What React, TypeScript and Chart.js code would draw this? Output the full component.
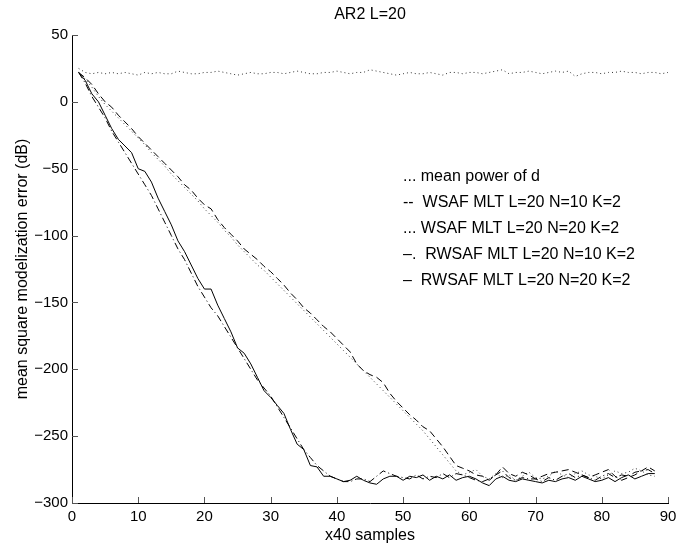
import React, { useEffect, useRef } from "react";
import { Chart, registerables } from "chart.js";

Chart.register(...registerables);

const TITLE = "AR2 L=20";
const X_LABEL = "x40 samples";
const Y_LABEL = "mean square modelization error (dB)";
const X_TICKS = [0, 10, 20, 30, 40, 50, 60, 70, 80, 90];
const Y_TICKS = [50, 0, -50, -100, -150, -200, -250, -300];
const LEGEND_LINES = [
  "... mean power of d",
  "--  WSAF MLT L=20 N=10 K=2",
  "... WSAF MLT L=20 N=20 K=2",
  "\u2013.  RWSAF MLT L=20 N=10 K=2",
  "\u2013  RWSAF MLT L=20 N=20 K=2",
];

const meanPower = [
  25, 22, 21, 22, 21, 22, 21, 22, 21, 20, 22, 21, 22, 21, 21, 23, 22, 21, 21, 22,
  22, 23, 22, 21, 20, 21, 22, 21, 21, 22, 22, 21, 22, 23, 22, 21, 21, 22, 22, 23,
  22, 21, 22, 22, 24, 23, 22, 21, 20, 21, 22, 21, 21, 22, 21, 20, 22, 22, 21, 22,
  22, 21, 22, 23, 24, 21, 22, 22, 23, 22, 21, 22, 23, 22, 23, 19, 21, 22, 22, 21,
  22, 22, 23, 22, 22, 21, 22, 22, 21, 22,
];

const wsafN10 = [
  22, 18, 13, 6, 0, -4, -10, -15, -20, -26, -31, -36, -41, -46, -51, -56, -62, -66, -72, -77,
  -80, -88, -94, -99, -104, -110, -114, -118, -123, -127, -132, -137, -143, -148, -154, -158, -163, -168, -172, -177,
  -182, -187, -196, -201, -204, -206, -210, -218, -224, -229, -234, -238, -243, -246, -252, -258, -265, -272, -274, -276,
  -279, -280, -283, -279, -273, -278, -280, -277, -279, -282, -280, -278, -277, -276, -275, -277, -279, -281, -279, -277,
  -275, -280, -283, -281, -279, -276, -273, -276,
];

const wsafN20 = [
  22, 17, 11, 4, -2, -7, -12, -17, -22, -27, -32, -38, -43, -48, -54, -59, -64, -69, -74, -80,
  -85, -90, -96, -101, -107, -112, -117, -122, -126, -131, -136, -141, -146, -151, -156, -161, -166, -171, -176, -181,
  -186, -191, -196, -201, -206, -211, -216, -221, -226, -231, -236, -241, -246, -252, -258, -264, -270, -276, -279, -277,
  -275, -280, -282, -278, -281, -279, -283, -280, -277, -281, -282, -280, -276, -279, -281, -278, -276, -279, -280, -282,
  -279, -276, -278, -277, -274, -276, -279, -280,
];

const rwsafN10 = [
  22, 14, 4, -4, -12, -22, -30, -38, -46, -54, -62, -70, -80, -90, -100, -110, -118, -128, -138, -146,
  -154, -160, -168, -176, -184, -192, -200, -208, -214, -220, -228, -236, -244, -252, -260, -266, -272, -276, -280, -282,
  -284, -284, -282, -282, -284, -280, -276, -278, -280, -281, -282, -279, -282, -280, -281, -278, -281, -278, -279, -281,
  -283, -284, -282, -279, -276, -281, -283, -281, -282, -282, -284, -281, -283, -280, -278, -281, -279, -281, -283, -280,
  -278, -281, -279, -280, -277, -276, -275, -278,
];

const rwsafN20 = [
  22, 16, 6, 0, -10, -20, -28, -33, -38, -50, -52, -60, -72, -82, -92, -104, -112, -122, -132, -140,
  -140, -152, -162, -172, -184, -188, -196, -206, -216, -221, -227, -233, -245, -256, -260, -272, -273, -280, -280, -282,
  -284, -283, -280, -283, -285, -286, -282, -280, -280, -283, -280, -281, -279, -283, -280, -282, -279, -283, -281, -280,
  -282, -285, -287, -282, -280, -283, -284, -282, -283, -284, -285, -283, -284, -282, -281, -283, -280, -282, -284, -283,
  -281, -284, -281, -279, -282, -280, -278, -278,
];

const FONT = "'Liberation Sans', Arial, Helvetica, sans-serif";

const toXY = (arr: number[]) => arr.map((v, i) => ({ x: i + 1, y: v }));

const decorPlugin = {
  id: "decor",
  afterDraw(chart: any) {
    const ctx = chart.ctx as CanvasRenderingContext2D;
    const area = chart.chartArea;
    const xs = chart.scales.x;
    const ys = chart.scales.y;
    const cx = (area.left + area.right) / 2;
    const cy = (area.top + area.bottom) / 2;
    ctx.save();
    ctx.strokeStyle = "#555";
    ctx.lineWidth = 1;
    ctx.beginPath();
    Y_TICKS.forEach((v) => {
      const y = Math.round(ys.getPixelForValue(v)) + 0.5;
      ctx.moveTo(area.left, y);
      ctx.lineTo(area.left + 6, y);
    });
    X_TICKS.forEach((v) => {
      const x = Math.round(xs.getPixelForValue(v)) + 0.5;
      ctx.moveTo(x, area.bottom);
      ctx.lineTo(x, area.bottom - 6);
    });
    ctx.stroke();

    ctx.fillStyle = "#000";
    ctx.font = `16px ${FONT}`;
    ctx.textAlign = "center";
    ctx.textBaseline = "middle";
    ctx.fillText(TITLE, cx, 15);
    ctx.fillText(X_LABEL, cx, 536);
    ctx.save();
    ctx.translate(23, cy);
    ctx.rotate(-Math.PI / 2);
    ctx.fillText(Y_LABEL, 0, 0);
    ctx.restore();

    ctx.textAlign = "left";
    const rows = [177, 203, 229, 255, 281];
    LEGEND_LINES.forEach((t, i) => {
      ctx.fillText(t, 403, rows[i]);
    });
    ctx.restore();
  },
};

export default function App() {
  const ref = useRef<HTMLCanvasElement | null>(null);
  useEffect(() => {
    document.body.style.margin = "0";
    const canvas = ref.current!;
    const common = { borderColor: "#000", borderWidth: 1, pointRadius: 0, fill: false, tension: 0 };
    const chart = new Chart(canvas, {
      type: "line",
      data: {
        datasets: [
          { ...common, label: "mean power of d", data: toXY(meanPower), borderDash: [1, 3], borderColor: "#333" },
          { ...common, label: "WSAF MLT L=20 N=10 K=2", data: toXY(wsafN10), borderDash: [7, 4] },
          { ...common, label: "WSAF MLT L=20 N=20 K=2", data: toXY(wsafN20), borderDash: [1, 3], borderColor: "#333" },
          { ...common, label: "RWSAF MLT L=20 N=10 K=2", data: toXY(rwsafN10), borderDash: [7, 3, 1, 3] },
          { ...common, label: "RWSAF MLT L=20 N=20 K=2", data: toXY(rwsafN20) },
        ],
      },
      options: {
        animation: false,
        responsive: false,
        devicePixelRatio: 1,
        layout: { padding: { top: 35, right: 22, left: 0, bottom: 0 } },
        plugins: { legend: { display: false }, tooltip: { enabled: false }, title: { display: false } },
        scales: {
          x: {
            type: "linear",
            min: 0,
            max: 90,
            afterBuildTicks: (s: any) => { s.ticks = X_TICKS.map((v) => ({ value: v })); },
            afterFit: (s: any) => { s.height = 43; },
            grid: { display: false, drawTicks: false, tickLength: 0 },
            border: { display: true, color: "#000", width: 1 },
            ticks: { color: "#000", font: { family: FONT, size: 15 }, padding: 5, maxRotation: 0, autoSkip: false },
          },
          y: {
            type: "linear",
            min: -300,
            max: 50,
            afterBuildTicks: (s: any) => { s.ticks = Y_TICKS.map((v) => ({ value: v })); },
            afterFit: (s: any) => { s.width = 72; },
            grid: { display: false, drawTicks: false, tickLength: 0 },
            border: { display: true, color: "#000", width: 1 },
            ticks: {
              color: "#000",
              font: { family: FONT, size: 15 },
              padding: 4,
              autoSkip: false,
              callback: (v: any) => (v < 0 ? "\u2212" + Math.abs(v) : String(v)),
            },
          },
        },
      },
      plugins: [decorPlugin],
    } as any);
    return () => chart.destroy();
  }, []);
  return (
    <div style={{ width: 690, height: 546 }}>
      <canvas ref={ref} width={690} height={546} style={{ display: "block" }} />
    </div>
  );
}
